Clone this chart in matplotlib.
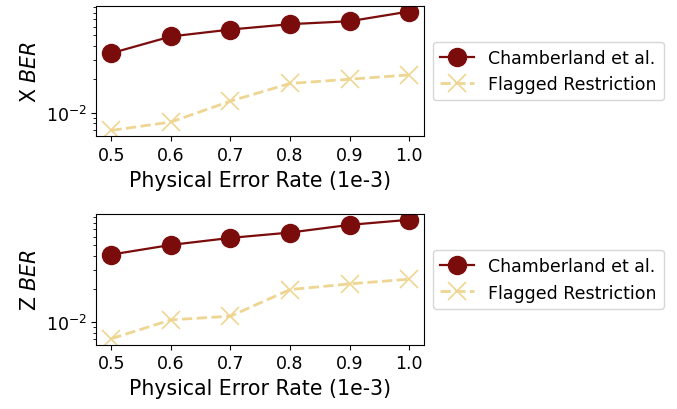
import matplotlib
matplotlib.use("Agg")
import matplotlib.pyplot as plt

error_rates = [0.5, 0.6, 0.7, 0.8, 0.9, 1.0]
x_chamberland = [0.0346, 0.0490, 0.0566, 0.0633, 0.0673, 0.0824]
x_flagged = [0.00692, 0.00824, 0.01274, 0.0184, 0.0201, 0.0220]
z_chamberland = [0.0412, 0.0504, 0.0584, 0.0653, 0.0767, 0.0853]
z_flagged = [0.00708, 0.0105, 0.01134, 0.0198, 0.0223, 0.0246]
tick_labels = ["0.5", "0.6", "0.7", "0.8", "0.9", "1.0"]
series_names = ["Chamberland et al.", "Flagged Restriction"]

c_red = "#7B0C0C"
c_gold = "#EFD592"

fig = plt.figure(figsize=(6.77, 4.10), dpi=100)
ax1 = fig.add_axes([0.1425, 0.665, 0.4838, 0.319])
ax2 = fig.add_axes([0.1425, 0.157, 0.4838, 0.319])

for ax, ych, yfl, lab in [(ax1, x_chamberland, x_flagged, "X $BER$"),
                          (ax2, z_chamberland, z_flagged, "Z $BER$")]:
    ax.plot(error_rates, ych, color=c_red, marker="o", markersize=13,
            linewidth=1.6, label=series_names[0])
    ax.plot(error_rates, yfl, color=c_gold, marker="x", markersize=13.5,
            linestyle="--", linewidth=2.0, markeredgewidth=1.2, label=series_names[1])
    ax.set_yscale("log")
    ax.set_xticks(error_rates)
    ax.set_xticklabels(tick_labels)
    ax.tick_params(labelsize=12.5)
    ax.set_xlabel("Physical Error Rate (1e-3)", fontsize=14.8)
    ax.set_ylabel(lab, fontsize=14.8)
    ax.legend(loc="center left", bbox_to_anchor=(1.0, 0.5), fontsize=12.5,
              handlelength=2.0, borderpad=0.4)

fig.savefig("out.png", dpi=100)
